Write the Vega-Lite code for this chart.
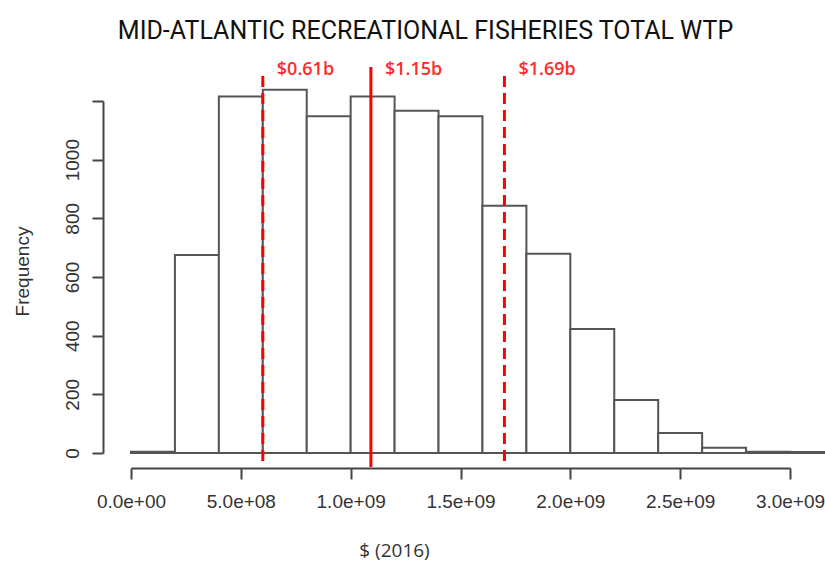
{
  "$schema": "https://vega.github.io/schema/vega-lite/v6.json",
  "width": 659,
  "height": 352,
  "autosize": "none",
  "padding": {"left": 131, "top": 101, "right": 35, "bottom": 115},
  "background": "white",
  "title": {
    "text": "MID-ATLANTIC RECREATIONAL FISHERIES TOTAL WTP",
    "font": "Roboto",
    "fontSize": 25,
    "fontWeight": "normal",
    "color": "#111111",
    "anchor": "middle",
    "dx": -35,
    "dy": -13
  },
  "config": {
    "view": {"stroke": null},
    "axis": {"grid": false}
  },
  "datasets": {
    "bins": [
      {"bin_start": 0, "bin_end": 200000000, "count": 4},
      {"bin_start": 200000000, "bin_end": 400000000, "count": 675},
      {"bin_start": 400000000, "bin_end": 600000000, "count": 1215},
      {"bin_start": 600000000, "bin_end": 800000000, "count": 1238},
      {"bin_start": 800000000, "bin_end": 1000000000, "count": 1148},
      {"bin_start": 1000000000, "bin_end": 1200000000, "count": 1215},
      {"bin_start": 1200000000, "bin_end": 1400000000, "count": 1167},
      {"bin_start": 1400000000, "bin_end": 1600000000, "count": 1148},
      {"bin_start": 1600000000, "bin_end": 1800000000, "count": 843},
      {"bin_start": 1800000000, "bin_end": 2000000000, "count": 679},
      {"bin_start": 2000000000, "bin_end": 2200000000, "count": 423},
      {"bin_start": 2200000000, "bin_end": 2400000000, "count": 181},
      {"bin_start": 2400000000, "bin_end": 2600000000, "count": 68},
      {"bin_start": 2600000000, "bin_end": 2800000000, "count": 18},
      {"bin_start": 2800000000, "bin_end": 3000000000, "count": 4},
      {"bin_start": 3000000000, "bin_end": 3200000000, "count": 3}
    ],
    "marks": [
      {"kind": "lower", "value": 600000000, "label": "$0.61b"},
      {"kind": "mean", "value": 1092000000, "label": "$1.15b"},
      {"kind": "upper", "value": 1700000000, "label": "$1.69b"}
    ]
  },
  "layer": [
    {
      "data": {"name": "bins"},
      "mark": {"type": "rect", "fill": "white", "stroke": "#555555", "strokeWidth": 2},
      "encoding": {
        "x": {
          "field": "bin_start",
          "type": "quantitative",
          "scale": {"domain": [0, 3000000000], "nice": false, "zero": false},
          "axis": {
            "values": [0, 500000000, 1000000000, 1500000000, 2000000000, 2500000000, 3000000000],
            "labelExpr": "replace(format(datum.value, '.1e'), 'e+', 'e+0')",
            "offset": 15,
            "domainColor": "#444444",
            "domainWidth": 2,
            "tickColor": "#444444",
            "tickWidth": 2,
            "tickSize": 11,
            "labelColor": "#333333",
            "labelFont": "Liberation Sans",
            "labelFontSize": 19,
            "labelPadding": 13,
            "labelFlush": false,
            "labelOverlap": false,
            "title": "$ (2016)",
            "titleFont": "Open Sans",
            "titleFontSize": 19,
            "titleFontWeight": "normal",
            "titleColor": "#333333",
            "titleX": 263,
            "titleY": 88,
            "titleAlign": "center",
            "titleBaseline": "alphabetic"
          }
        },
        "x2": {"field": "bin_end"},
        "y": {
          "field": "count",
          "type": "quantitative",
          "scale": {"domain": [0, 1200], "nice": false},
          "axis": {
            "values": [0, 200, 400, 600, 800, 1000, 1200],
            "format": "d",
            "labelExpr": "datum.value == 1200 ? '' : datum.label",
            "offset": 28,
            "domainColor": "#444444",
            "domainWidth": 2,
            "tickColor": "#444444",
            "tickWidth": 2,
            "tickSize": 11,
            "labelAngle": -90,
            "labelAlign": "center",
            "labelBaseline": "bottom",
            "labelColor": "#333333",
            "labelFont": "Liberation Sans",
            "labelFontSize": 19,
            "labelPadding": 10,
            "labelOverlap": false,
            "title": "Frequency",
            "titleFont": "Liberation Sans",
            "titleFontSize": 19,
            "titleFontWeight": "normal",
            "titleColor": "#333333",
            "titleAngle": -90,
            "titleX": -75,
            "titleY": 170,
            "titleAlign": "center",
            "titleBaseline": "alphabetic"
          }
        },
        "y2": {"datum": 0}
      }
    },
    {
      "data": {"name": "marks"},
      "transform": [{"filter": "datum.kind != 'mean'"}],
      "mark": {"type": "rule", "color": "#ff0000", "strokeWidth": 3, "strokeDash": [11, 6]},
      "encoding": {
        "x": {"field": "value", "type": "quantitative", "scale": {"domain": [0, 3000000000], "nice": false, "zero": false}},
        "y": {"datum": 1285, "type": "quantitative", "scale": {"domain": [0, 1200], "nice": false}},
        "y2": {"datum": -48}
      }
    },
    {
      "data": {"name": "marks"},
      "transform": [{"filter": "datum.kind == 'mean'"}],
      "mark": {"type": "rule", "color": "#ff0000", "strokeWidth": 3},
      "encoding": {
        "x": {"field": "value", "type": "quantitative", "scale": {"domain": [0, 3000000000], "nice": false, "zero": false}},
        "y": {"datum": 1316, "type": "quantitative", "scale": {"domain": [0, 1200], "nice": false}},
        "y2": {"datum": -48}
      }
    },
    {
      "data": {"name": "marks"},
      "mark": {"type": "text", "align": "left", "baseline": "alphabetic", "dx": 14, "font": "Open Sans", "fontSize": 18, "fontWeight": 600, "color": "#ff2a2a"},
      "encoding": {
        "x": {"field": "value", "type": "quantitative", "scale": {"domain": [0, 3000000000], "nice": false, "zero": false}},
        "y": {"datum": 1290, "type": "quantitative", "scale": {"domain": [0, 1200], "nice": false}},
        "text": {"field": "label"}
      }
    }
  ]
}
